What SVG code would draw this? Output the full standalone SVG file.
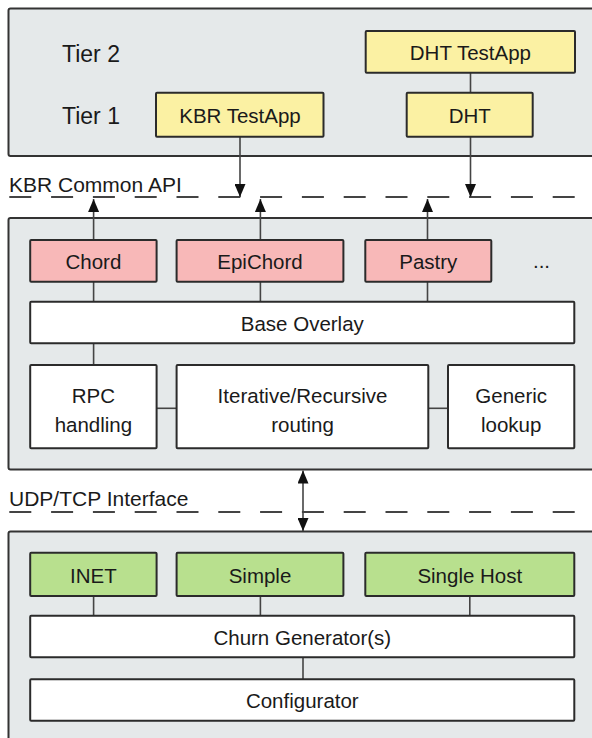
<svg xmlns="http://www.w3.org/2000/svg" width="592" height="738" viewBox="0 0 592 738">
<style>
.panel{fill:#e5e9ea;stroke:#333;stroke-width:2}
.box{stroke:#2b2b2b;stroke-width:2}
.yel{fill:#fbf1a3}
.pink{fill:#f8b8b8}
.green{fill:#b8e08e}
.white{fill:#ffffff}
text{font-family:"Liberation Sans",Arial,sans-serif;fill:#1a1a1a;text-anchor:middle;font-size:20.5px}
.lbl{text-anchor:start;font-size:21px}
.tier{text-anchor:start;font-size:23px}
.conn line{stroke:#444;stroke-width:1.6;fill:none}
.dash{stroke:#444;stroke-width:2;stroke-dasharray:22 19.8}
</style>
<defs>
<marker id="ah" viewBox="0 0 13 11" refX="13" refY="5.5" markerWidth="13" markerHeight="11" markerUnits="userSpaceOnUse" orient="auto-start-reverse">
<path d="M0,0 L13,5.5 L0,11 z" fill="#111"/>
</marker>
</defs>

<g id="panel-top"><rect class="panel" x="8.5" y="8.5" width="600" height="147.5" rx="2"/></g>
<g id="panel-mid"><rect class="panel" x="8.5" y="218" width="600" height="251.5" rx="2"/></g>
<g id="panel-bot"><rect class="panel" x="8.5" y="531.5" width="600" height="230" rx="2"/></g>

<g id="tier2"><text class="tier" x="62" y="62">Tier 2</text></g>
<g id="tier1"><text class="tier" x="62" y="124">Tier 1</text></g>

<g id="interfaces">
<line class="dash" x1="9.3" y1="197" x2="576" y2="197"/>
<line class="dash" x1="9.3" y1="512" x2="576" y2="512"/>
<text class="lbl" x="9" y="192">KBR Common API</text>
<text class="lbl" x="9" y="506">UDP/TCP Interface</text>
</g>

<g class="conn" id="connectors">
<line x1="470.5" y1="72.7" x2="470.5" y2="92.7"/>
<line x1="240" y1="136.7" x2="240" y2="197" marker-end="url(#ah)"/>
<line x1="470.5" y1="136.7" x2="470.5" y2="197" marker-end="url(#ah)"/>
<line x1="93.6" y1="240" x2="93.6" y2="199" marker-end="url(#ah)"/>
<line x1="260.4" y1="240" x2="260.4" y2="199" marker-end="url(#ah)"/>
<line x1="427.5" y1="240" x2="427.5" y2="199" marker-end="url(#ah)"/>
<line x1="93.6" y1="281.7" x2="93.6" y2="301.7"/>
<line x1="260.4" y1="281.7" x2="260.4" y2="301.7"/>
<line x1="427.5" y1="281.7" x2="427.5" y2="301.7"/>
<line x1="93.6" y1="343.3" x2="93.6" y2="365"/>
<line x1="156.6" y1="408.3" x2="176.6" y2="408.3"/>
<line x1="428.3" y1="408.3" x2="448" y2="408.3"/>
<line x1="303" y1="470.5" x2="303" y2="531" marker-start="url(#ah)" marker-end="url(#ah)"/>
<line x1="93.6" y1="596" x2="93.6" y2="615.7"/>
<line x1="260.4" y1="596" x2="260.4" y2="615.7"/>
<line x1="469.8" y1="596" x2="469.8" y2="615.7"/>
<line x1="303" y1="657.3" x2="303" y2="679.3"/>
</g>

<g id="kbr-testapp"><rect class="box yel" x="156" y="92.7" width="167.5" height="44" rx="1"/><text x="240" y="122.5">KBR TestApp</text></g>
<g id="dht-testapp"><rect class="box yel" x="365.7" y="31" width="209.3" height="41.7" rx="1"/><text x="470.4" y="60">DHT TestApp</text></g>
<g id="dht"><rect class="box yel" x="406.7" y="92.7" width="126" height="44" rx="1"/><text x="469.7" y="122.5">DHT</text></g>

<g id="chord"><rect class="box pink" x="30.2" y="240" width="126.4" height="41.7" rx="1"/><text x="93.4" y="269">Chord</text></g>
<g id="epichord"><rect class="box pink" x="176.6" y="240" width="166.8" height="41.7" rx="1"/><text x="260" y="269">EpiChord</text></g>
<g id="pastry"><rect class="box pink" x="365.3" y="240" width="126" height="41.7" rx="1"/><text x="428.3" y="269">Pastry</text></g>
<g id="more"><text x="541.5" y="268">...</text></g>
<g id="base-overlay"><rect class="box white" x="30.2" y="301.7" width="544.1" height="41.6" rx="1"/><text x="302.3" y="330.5">Base Overlay</text></g>
<g id="rpc"><rect class="box white" x="30.2" y="365" width="126.4" height="83.3" rx="1"/><text x="93.4" y="402.7">RPC</text><text x="93.4" y="431.7">handling</text></g>
<g id="routing"><rect class="box white" x="176.6" y="365" width="251.7" height="83.3" rx="1"/><text x="302.5" y="402.7">Iterative/Recursive</text><text x="302.5" y="431.7">routing</text></g>
<g id="lookup"><rect class="box white" x="448" y="365" width="126.3" height="83.3" rx="1"/><text x="511.2" y="402.7">Generic</text><text x="511.2" y="431.7">lookup</text></g>

<g id="inet"><rect class="box green" x="30.2" y="552.7" width="126.4" height="43.3" rx="1"/><text x="93.4" y="582.5">INET</text></g>
<g id="simple"><rect class="box green" x="176.6" y="552.7" width="166.8" height="43.3" rx="1"/><text x="260" y="582.5">Simple</text></g>
<g id="single-host"><rect class="box green" x="365.3" y="552.7" width="209" height="43.3" rx="1"/><text x="469.8" y="582.5">Single Host</text></g>
<g id="churn"><rect class="box white" x="30.2" y="615.7" width="544.1" height="41.6" rx="1"/><text x="302.3" y="644.5">Churn Generator(s)</text></g>
<g id="configurator"><rect class="box white" x="30.2" y="679.3" width="544.1" height="41.4" rx="1"/><text x="302.3" y="708">Configurator</text></g>
</svg>
